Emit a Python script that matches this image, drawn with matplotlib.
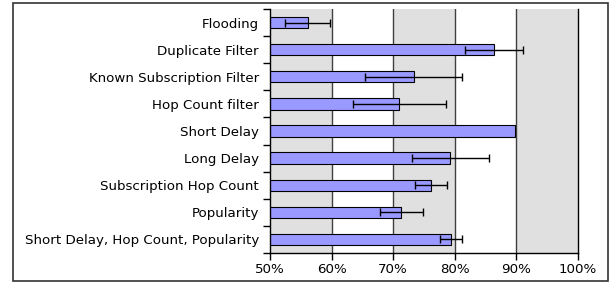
import numpy as np
import matplotlib.pyplot as plt
from matplotlib.patches import Rectangle

categories = [
    "Flooding",
    "Duplicate Filter",
    "Known Subscription Filter",
    "Hop Count filter",
    "Short Delay",
    "Long Delay",
    "Subscription Hop Count",
    "Popularity",
    "Short Delay, Hop Count, Popularity",
]
values = [56.1, 86.3, 73.3, 71.0, 89.8, 79.3, 76.2, 71.3, 79.4]
errors = [3.65, 4.7, 7.9, 7.6, 0.0, 6.2, 2.6, 3.5, 1.75]
xticks = [50, 60, 70, 80, 90, 100]

fig = plt.figure(figsize=(6.11, 2.85), dpi=100)
ax = fig.add_axes([270 / 611, 1 - 253 / 285, 308 / 611, 244 / 285])

# outer frame around the whole chart
fig.patches.append(Rectangle((13 / 611, 1 - 281 / 285), 595 / 611, 278 / 285,
                             transform=fig.transFigure, fill=False,
                             edgecolor='#333333', linewidth=1.2))

# alternating background bands
for lo in (50, 70, 90):
    ax.axvspan(lo, lo + 10, color='#e0e0e0', zorder=0, linewidth=0)
for x in (60, 70, 80, 90):
    ax.axvline(x, color='#404040', linewidth=1.0, zorder=1)

y = np.arange(len(categories))
ax.barh(y, values, height=0.42, color='#9999ff', edgecolor='black',
        linewidth=0.8, zorder=2)

# only bars with a spread get an error bar
has_err = np.array(errors) > 0
ax.errorbar(np.array(values)[has_err], y[has_err],
            xerr=np.array(errors)[has_err], fmt='none', ecolor='black',
            elinewidth=1.0, capsize=3, capthick=1.0, zorder=3)

ax.set_xlim(50, 100)
ax.set_ylim(len(categories) - 0.5, -0.5)

ax.set_xticks(xticks)
ax.set_xticklabels([f"{v}%" for v in xticks], fontsize=9.6)
ax.set_yticks(np.arange(-0.5, len(categories), 1))
ax.set_yticklabels([])
ax.set_yticks(y, minor=True)
ax.set_yticklabels(categories, minor=True, fontsize=9.6)
ax.tick_params(axis='y', which='minor', length=0, pad=8)
ax.tick_params(axis='y', which='major', length=5, width=1)
ax.tick_params(axis='x', length=5, width=1, pad=2)

ax.spines['top'].set_visible(False)
for s in ('left', 'bottom', 'right'):
    ax.spines[s].set_linewidth(1.0)

fig.savefig('out.png', dpi=100)
